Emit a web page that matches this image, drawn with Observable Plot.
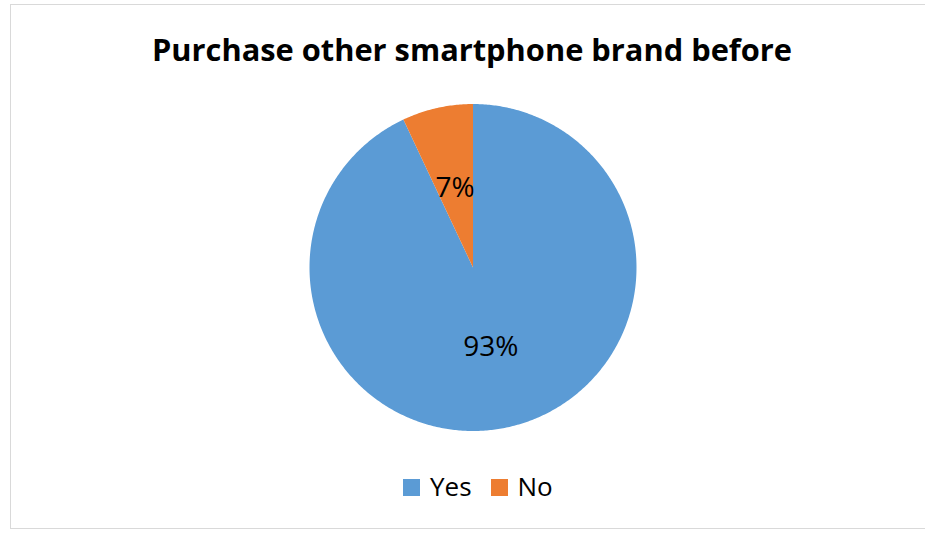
<!DOCTYPE html>
<html>
<head>
<meta charset="utf-8">
<script src="https://cdn.jsdelivr.net/npm/d3@7"></script>
<script src="https://cdn.jsdelivr.net/npm/@observablehq/plot@0.6"></script>
<style>
  html, body { margin: 0; padding: 0; background: #fff; }
  #wrap { position: relative; width: 925px; height: 533px; overflow: hidden; }
  #frame { position: absolute; left: 10px; top: 4px; width: 930px; height: 525px; border: 1.5px solid #d9d9d9; box-sizing: border-box; }
  #legend { position: absolute; left: 403px; top: 468px; white-space: nowrap; font-family: "Open Sans", sans-serif; font-size: 26px; line-height: 35px; color: #000; }
  #legend span.item { display: inline-flex; align-items: center; margin-right: 19px; }
  #legend span.sw { display: inline-block; width: 17px; height: 17px; margin-right: 10px; transform: translateY(1px); }
  svg { position: absolute; left: 0; top: 0; }
</style>
</head>
<body>
<div id="wrap">
  <div id="frame"></div>
</div>
<script>
const title = "Purchase other smartphone brand before";
const categories = ["Yes", "No"];
const values = [93, 7];
const colors = ["#5B9BD5", "#ED7D31"];

const total = d3.sum(values);
const pie = d3.pie().sort(null).value(d => d.value);
const slices = pie(categories.map((c, i) => ({category: c, value: values[i]})));

// polygon vertices for each slice on a unit circle (angle 0 at 12 o'clock, clockwise)
const pts = [];
for (const s of slices) {
  const n = Math.max(2, Math.ceil((s.endAngle - s.startAngle) / 0.01));
  pts.push({category: s.data.category, x: 0, y: 0});
  for (let k = 0; k <= n; k++) {
    const a = s.startAngle + (s.endAngle - s.startAngle) * k / n;
    pts.push({category: s.data.category, x: Math.sin(a), y: Math.cos(a)});
  }
  pts.push({category: s.data.category, x: 0, y: 0});
}
const labelPos = {Yes: 0.5, No: 0.5};
const labels = slices.map(s => {
  const a = (s.startAngle + s.endAngle) / 2;
  const r = labelPos[s.data.category];
  return {category: s.data.category, x: r * Math.sin(a), y: r * Math.cos(a), text: Math.round(s.data.value / total * 100) + "%"};
});

const cx = 472.5, cy = 267, R = 163.5;
const chart = Plot.plot({
  width: 925,
  height: 533,
  margin: 0,
  x: {domain: [-1, 1], range: [cx - R, cx + R], axis: null},
  y: {domain: [-1, 1], range: [cy + R, cy - R], axis: null},
  color: {domain: categories, range: colors},
  style: {background: "transparent", overflow: "visible"},
  marks: [
    Plot.line(pts, {x: "x", y: "y", z: "category", fill: "category", stroke: "none", curve: "linear"}),
    Plot.text(labels, {x: "x", y: "y", text: "text", fill: "#000", fontSize: 28, fontFamily: "Open Sans, sans-serif"}),
    Plot.text([title], {frameAnchor: "top", dx: 9, dy: 39, text: d => d, fill: "#000", fontSize: 30.8, fontWeight: "bold", fontFamily: "Open Sans, sans-serif"})
  ]
});
const wrap = document.getElementById("wrap");
wrap.appendChild(chart);

const legend = document.createElement("div");
legend.id = "legend";
categories.forEach((c, i) => {
  const item = document.createElement("span");
  item.className = "item";
  const sw = document.createElement("span");
  sw.className = "sw";
  sw.style.background = colors[i];
  item.appendChild(sw);
  item.appendChild(document.createTextNode(c));
  legend.appendChild(item);
});
wrap.appendChild(legend);
</script>
</body>
</html>
